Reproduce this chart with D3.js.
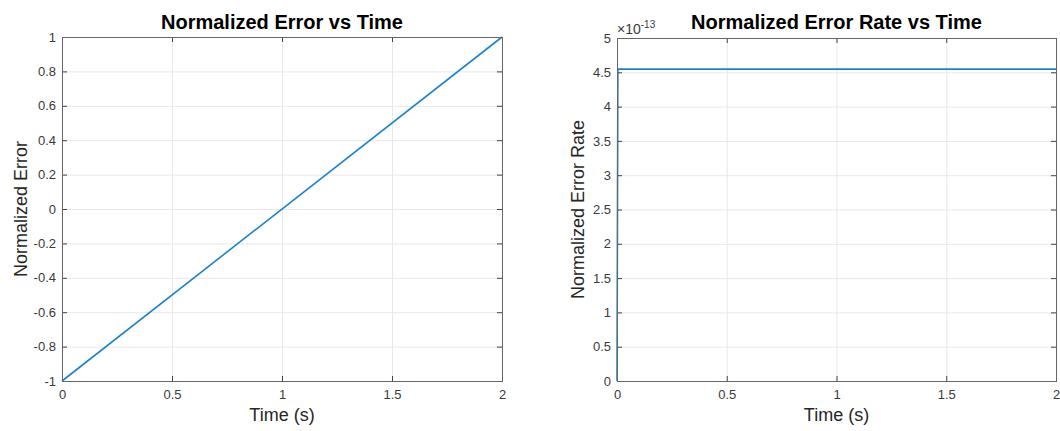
<!DOCTYPE html>
<html>
<head>
<meta charset="utf-8">
<script src="https://cdn.jsdelivr.net/npm/d3@7"></script>
<style>
  body { margin: 0; background: #fff; }
  svg { display: block; font-family: "Liberation Sans", Arial, sans-serif; }
  .tick text { fill: #3a3a3a; font-size: 13px; }
  .axis path { display: none; }
  .axis .tick line { stroke: #444; }
  .grid line { stroke: #e8e8e8; }
</style>
</head>
<body>
<div id="chart"></div>
<script>
// left panel: normalized error
const errTime = [0, 2];
const errValue = [-1, 1];
const errXTicks = [0, 0.5, 1, 1.5, 2];
const errYTicks = [-1, -0.8, -0.6, -0.4, -0.2, 0, 0.2, 0.4, 0.6, 0.8, 1];

// right panel: normalized error rate
const rateTime = [0, 0.004, 2];
const rateValue = [0, 4.547e-13, 4.547e-13];
const rateXTicks = [0, 0.5, 1, 1.5, 2];
const rateYTicks = [0, 0.5, 1, 1.5, 2, 2.5, 3, 3.5, 4, 4.5, 5];
const rateExp = 1e-13;

const W = 1060, H = 431;
const fmt = v => String(+v.toFixed(3));

const svg = d3.select('#chart').append('svg')
  .attr('width', W)
  .attr('height', H);

function panel(opts) {
  const x = d3.scaleLinear().domain([0, 2]).range([opts.left, opts.right]);
  const y = d3.scaleLinear().domain(opts.yDomain).range([opts.bottom, opts.top]);
  const g = svg.append('g');

  // grid
  const grid = g.append('g').attr('class', 'grid');
  grid.selectAll('.gx').data(opts.xTicks).join('line')
    .attr('x1', d => x(d) + 0.5).attr('x2', d => x(d) + 0.5)
    .attr('y1', opts.top).attr('y2', opts.bottom);
  grid.selectAll('.gy').data(opts.yTicks).join('line')
    .attr('x1', opts.left).attr('x2', opts.right)
    .attr('y1', d => y(d) + 0.5).attr('y2', d => y(d) + 0.5);

  // line
  const pts = opts.t.map((t, i) => [t, opts.v[i] / opts.scale]);
  g.append('path')
    .datum(pts)
    .attr('fill', 'none')
    .attr('stroke', '#1f82c8')
    .attr('stroke-width', 1.6)
    .attr('d', d3.line().x(d => x(d[0])).y(d => y(d[1])));

  // axes with inward ticks
  g.append('g').attr('class', 'axis')
    .attr('transform', `translate(0,${opts.bottom})`)
    .call(d3.axisBottom(x).tickValues(opts.xTicks).tickFormat(fmt).tickSizeInner(-5).tickPadding(9));
  g.append('g').attr('class', 'axis')
    .attr('transform', `translate(0,${opts.top})`)
    .call(d3.axisTop(x).tickValues(opts.xTicks).tickFormat('').tickSizeInner(-5));
  g.append('g').attr('class', 'axis')
    .attr('transform', `translate(${opts.left},0)`)
    .call(d3.axisLeft(y).tickValues(opts.yTicks).tickFormat(fmt).tickSizeInner(-5).tickPadding(6));
  g.append('g').attr('class', 'axis')
    .attr('transform', `translate(${opts.right},0)`)
    .call(d3.axisRight(y).tickValues(opts.yTicks).tickFormat('').tickSizeInner(-5));

  // box
  g.append('rect')
    .attr('x', opts.left + 0.5).attr('y', opts.top + 0.5)
    .attr('width', opts.right - opts.left).attr('height', opts.bottom - opts.top)
    .attr('fill', 'none').attr('stroke', '#666');

  const cx = (opts.left + opts.right) / 2;
  g.append('text')
    .attr('x', cx).attr('y', 29)
    .attr('text-anchor', 'middle')
    .attr('font-weight', 'bold').attr('font-size', 20)
    .text(opts.title);
  g.append('text')
    .attr('x', cx).attr('y', 421)
    .attr('text-anchor', 'middle')
    .attr('font-size', 18).attr('fill', '#262626')
    .text('Time (s)');
  g.append('text')
    .attr('transform', `translate(${opts.yLabelX},${(opts.top + opts.bottom) / 2}) rotate(-90)`)
    .attr('text-anchor', 'middle')
    .attr('font-size', 18).attr('fill', '#262626')
    .text(opts.yLabel);
  return g;
}

panel({
  left: 62, right: 502, top: 37, bottom: 381,
  yDomain: [-1, 1], xTicks: errXTicks, yTicks: errYTicks,
  t: errTime, v: errValue, scale: 1,
  title: 'Normalized Error vs Time', yLabel: 'Normalized Error', yLabelX: 27
});

const right = panel({
  left: 617, right: 1056, top: 38, bottom: 381,
  yDomain: [0, 5], xTicks: rateXTicks, yTicks: rateYTicks,
  t: rateTime, v: rateValue, scale: rateExp,
  title: 'Normalized Error Rate vs Time', yLabel: 'Normalized Error Rate', yLabelX: 584
});

const ex = right.append('text')
  .attr('x', 617).attr('y', 34)
  .attr('font-size', 14).attr('fill', '#3a3a3a');
ex.append('tspan').text('×10');
ex.append('tspan').attr('dy', -6).attr('font-size', 10).text('-13');
</script>
</body>
</html>
